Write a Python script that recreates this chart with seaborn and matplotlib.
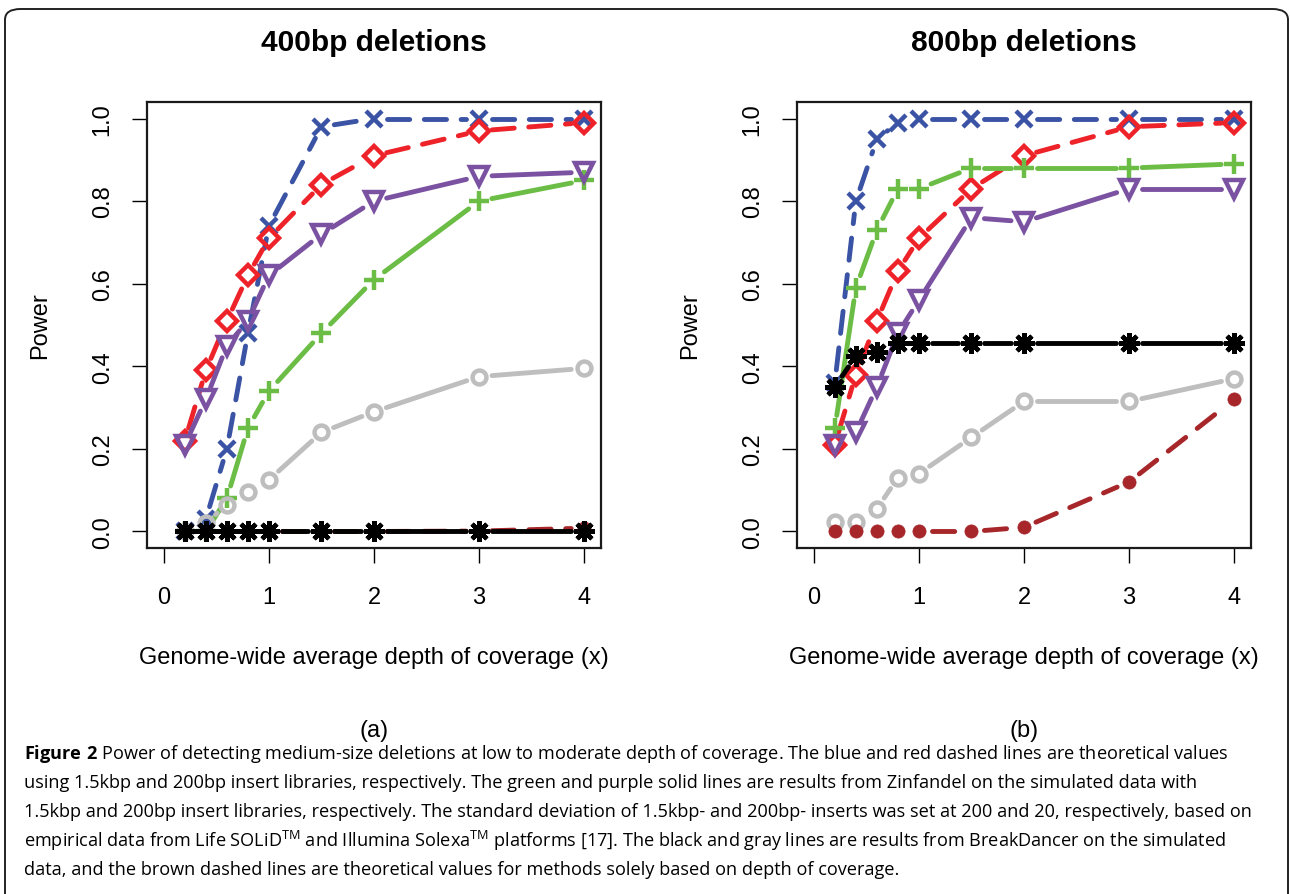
import numpy as np
import pandas as pd
import matplotlib
matplotlib.use('Agg')
import matplotlib.pyplot as plt
import seaborn as sns
from matplotlib.patches import FancyBboxPatch

# data
depth = [0.2, 0.4, 0.6, 0.8, 1.0, 1.5, 2.0, 3.0, 4.0]

blue_400 = [0.00, 0.03, 0.20, 0.48, 0.74, 0.98, 1.00, 1.00, 1.00]
red_400 = [0.22, 0.39, 0.51, 0.62, 0.71, 0.84, 0.91, 0.97, 0.99]
green_400 = [0.00, 0.00, 0.08, 0.25, 0.34, 0.48, 0.61, 0.80, 0.85]
purple_400 = [0.21, 0.32, 0.45, 0.51, 0.62, 0.72, 0.80, 0.86, 0.87]
gray_400 = [0.00, 0.02, 0.065, 0.095, 0.125, 0.24, 0.29, 0.375, 0.395]
brown_400 = [0.00, 0.00, 0.00, 0.00, 0.00, 0.00, 0.00, 0.001, 0.008]
black_400 = [0.00, 0.00, 0.00, 0.00, 0.00, 0.00, 0.00, 0.00, 0.00]

blue_800 = [0.36, 0.80, 0.95, 0.99, 1.00, 1.00, 1.00, 1.00, 1.00]
red_800 = [0.21, 0.38, 0.51, 0.63, 0.71, 0.83, 0.91, 0.98, 0.99]
green_800 = [0.25, 0.59, 0.73, 0.83, 0.83, 0.88, 0.88, 0.88, 0.89]
purple_800 = [0.21, 0.24, 0.35, 0.48, 0.56, 0.76, 0.75, 0.83, 0.83]
gray_800 = [0.023, 0.023, 0.055, 0.13, 0.14, 0.228, 0.315, 0.315, 0.37]
brown_800 = [0.00, 0.00, 0.00, 0.00, 0.00, 0.00, 0.01, 0.12, 0.32]
black_800 = [0.35, 0.425, 0.435, 0.456, 0.456, 0.456, 0.456, 0.456, 0.456]

panels = [
    ("400bp deletions", "(a)", {"blue": blue_400, "red": red_400, "green": green_400,
                                 "purple": purple_400, "gray": gray_400,
                                 "brown": brown_400, "black": black_400}),
    ("800bp deletions", "(b)", {"blue": blue_800, "red": red_800, "green": green_800,
                                 "purple": purple_800, "gray": gray_800,
                                 "brown": brown_800, "black": black_800}),
]

caption_lines = [
    r"$\mathbf{Figure\ 2}$ Power of detecting medium-size deletions at low to moderate depth of coverage. The blue and red dashed lines are theoretical values",
    "using 1.5kbp and 200bp insert libraries, respectively. The green and purple solid lines are results from Zinfandel on the simulated data with",
    "1.5kbp and 200bp insert libraries, respectively. The standard deviation of 1.5kbp- and 200bp- inserts was set at 200 and 20, respectively, based on",
    r"empirical data from Life SOLiD$^{\mathrm{TM}}$ and Illumina Solexa$^{\mathrm{TM}}$ platforms [17]. The black and gray lines are results from BreakDancer on the simulated",
    "data, and the brown dashed lines are theoretical values for methods solely based on depth of coverage.",
]

dash = (0, (16, 10.5))
styles = {
    "blue":   dict(color="#3A53A4", marker="x", ms=12, ls=dash, fill=False),
    "red":    dict(color="#EE2229", marker="D", ms=10, ls=dash, fill=False),
    "green":  dict(color="#6BBD45", marker="+", ms=15, ls="-", fill=False),
    "purple": dict(color="#7B52A1", marker="v", ms=13, ls="-", fill=False),
    "gray":   dict(color="#BEBEBE", marker="o", ms=10, ls="-", fill=False),
    "brown":  dict(color="#A6262A", marker="o", ms=9.5, ls=dash, fill=True),
    "black":  dict(color="#000000", marker=(8, 2, 0), ms=15, ls="-", fill=False),
}
draw_order = ["blue", "red", "green", "purple", "gray", "brown", "black"]

sns.set_theme(style="white")
plt.rcParams["font.family"] = ["Liberation Sans", "DejaVu Sans"]
plt.rcParams["mathtext.fontset"] = "custom"
plt.rcParams["mathtext.rm"] = "Open Sans"
plt.rcParams["mathtext.bf"] = "Open Sans:bold"
plt.rcParams["lines.scale_dashes"] = False

fig = plt.figure(figsize=(12.9, 8.95), dpi=100)
fig.patch.set_facecolor("white")

W, H = 1290, 895
gap_px = 13


def gapped(ax, xs, ys):
    # type="b" style: the line stops short of each point
    pts = ax.transData.transform(np.column_stack([xs, ys]))
    inv = ax.transData.inverted()
    rows = []
    for i in range(len(pts) - 1):
        d = pts[i + 1] - pts[i]
        L = np.hypot(d[0], d[1])
        if L <= 2 * gap_px:
            continue
        u = d / L
        a = inv.transform(pts[i] + u * gap_px)
        b = inv.transform(pts[i + 1] - u * gap_px)
        rows.append({"x": a[0], "y": a[1], "seg": i})
        rows.append({"x": b[0], "y": b[1], "seg": i})
    return pd.DataFrame(rows, columns=["x", "y", "seg"])


axes_left = [147, 797]
for (title, tag, series), left in zip(panels, axes_left):
    ax = fig.add_axes([left / W, 1 - 549 / H, 454 / W, 446 / H])
    ax.set_xlim(-0.16, 4.16)
    ax.set_ylim(-0.04, 1.04)
    for name in draw_order:
        st = styles[name]
        seg = gapped(ax, depth, series[name])
        if len(seg):
            sns.lineplot(data=seg, x="x", y="y", units="seg", estimator=None,
                         sort=False, color=st["color"], lw=3.5, linestyle=st["ls"],
                         dash_capstyle="round", solid_capstyle="round",
                         legend=False, ax=ax)
        pdf = pd.DataFrame({"x": depth, "y": series[name]})
        sns.lineplot(data=pdf, x="x", y="y", estimator=None, sort=False,
                     linestyle="none", marker=st["marker"], markersize=st["ms"],
                     color=st["color"], markeredgecolor=st["color"],
                     markerfacecolor=st["color"] if st["fill"] else "none",
                     markeredgewidth=3.2 if not st["fill"] else 0.5,
                     legend=False, ax=ax)
    ax.set_xlim(-0.16, 4.16)
    ax.set_ylim(-0.04, 1.04)
    ax.set_xticks([0, 1, 2, 3, 4])
    ax.set_xticklabels(["0", "1", "2", "3", "4"])
    ax.set_yticks([0, 0.2, 0.4, 0.6, 0.8, 1.0])
    ax.set_yticklabels(["0.0", "0.2", "0.4", "0.6", "0.8", "1.0"], rotation=90, va="center")
    ax.tick_params(axis="both", direction="out", length=10.5, width=1, color="black",
                   labelsize=17, labelcolor="black", bottom=True, left=True)
    ax.tick_params(axis="x", pad=17)
    ax.tick_params(axis="y", pad=13.5)
    for sp in ax.spines.values():
        sp.set_visible(True)
        sp.set_color("#1a1a1a")
        sp.set_linewidth(1.6)
    ax.set_xlabel("Genome-wide average depth of coverage (x)", fontsize=17,
                  color="black", va="center")
    ax.set_ylabel("Power", fontsize=17, color="black", va="center")
    ax.xaxis.set_label_coords(0.5, -0.244)
    ax.yaxis.set_label_coords(-0.236, 0.5)
    ax.text(0.5, 1.1345, title, transform=ax.transAxes, ha="center", va="center",
            fontsize=21.5, fontweight="bold", color="black")
    ax.text(0.5, -0.408, tag, transform=ax.transAxes, ha="center", va="center",
            fontsize=17, color="black")
    ax.grid(False)

for i, line in enumerate(caption_lines):
    fig.text(24 / W, 1 - (754 + 29 * i) / H, line, ha="left", va="center",
             fontsize=13.1, family="Open Sans", color="black")

frame = FancyBboxPatch((5 / W, -0.05), 1283 / W, 1 - 10 / H + 0.05,
                       boxstyle="round,pad=0,rounding_size=0.012",
                       transform=fig.transFigure, fill=False, ec="#222222",
                       lw=1.4, clip_on=False)
fig.patches.append(frame)

fig.savefig("out.png", dpi=100, facecolor="white")
